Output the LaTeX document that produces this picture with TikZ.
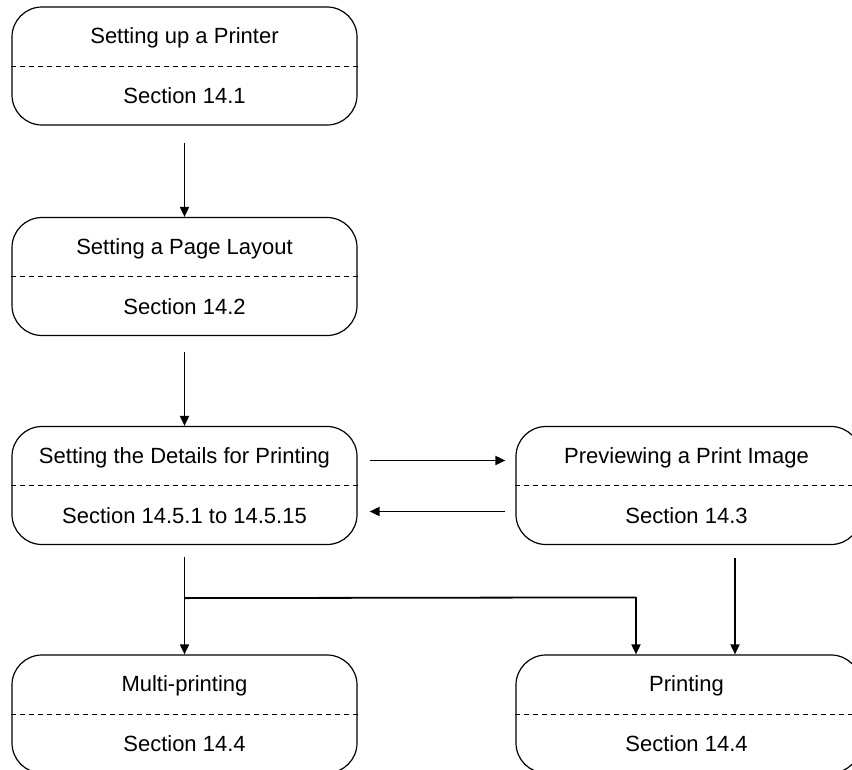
\documentclass[tikz,border=0pt]{standalone}
\usepackage{fontspec}
\setmainfont{Liberation Sans}
\usetikzlibrary{arrows.meta,calc}
\begin{document}
\begin{tikzpicture}[x=1pt,y=-1pt,
  box/.style={draw,line width=1.2pt,rounded corners=30pt,minimum width=345pt,minimum height=118pt,inner sep=0pt},
  sep/.style={dash pattern=on 5pt off 4pt,line width=0.9pt},
  lbl/.style={font=\fontsize{22}{26}\selectfont,inner sep=0pt,anchor=center},
  arr/.style={line width=1.8pt,-{Triangle[length=10pt,width=9pt]}},
  ln/.style={line width=1.8pt}]
\useasboundingbox (0,0) rectangle (852,769);
\clip (0,0) rectangle (852,769);
% boxes
\node[box] (b1) at (184.5,66) {};
\node[box] (b2) at (184.5,276.5) {};
\node[box] (b3) at (184.5,485.5) {};
\node[box] (b4) at (688.5,485.5) {};
\node[box] (b5) at (184.5,714) {};
\node[box] (b6) at (688.5,714) {};
% separators
\foreach \b in {b1,b2,b3,b4,b5,b6}{\draw[sep] (\b.west) -- (\b.east);}
% texts
\node[lbl] (b1t) at ($(b1.center)+(0,-28)$) {Setting up a Printer};
\node[lbl] (b1s) at ($(b1.center)+(0,30)$) {Section 14.1};
\node[lbl] (b2t) at ($(b2.center)+(0,-28)$) {Setting a Page Layout};
\node[lbl] (b2s) at ($(b2.center)+(0,30)$) {Section 14.2};
\node[lbl] (b3t) at ($(b3.center)+(0,-28)$) {Setting the Details for Printing};
\node[lbl] (b3s) at ($(b3.center)+(0,30)$) {Section 14.5.1 to 14.5.15};
\node[lbl] (b4t) at ($(b4.center)+(-2,-28)$) {Previewing a Print Image};
\node[lbl] (b4s) at ($(b4.center)+(-2,30)$) {Section 14.3};
\node[lbl] (b5t) at ($(b5.center)+(0,-28)$) {Multi-printing};
\node[lbl] (b5s) at ($(b5.center)+(0,30)$) {Section 14.4};
\node[lbl] (b6t) at ($(b6.center)+(-2,-28)$) {Printing};
\node[lbl] (b6s) at ($(b6.center)+(-2,30)$) {Section 14.4};
% connectors
\draw[arr] ($(b1.south)+(0,17)$) -- (b2.north);
\draw[arr] ($(b2.south)+(0,16)$) -- (b3.north);
\draw[arr] ($(b3.east)+(12,-25)$) -- ($(b4.west)+(-10,-25)$);
\draw[arr] ($(b4.west)+(-10,26)$) -- ($(b3.east)+(12,26)$);
\coordinate (j1) at ($(b3.south)+(0,53)$);
\coordinate (j2) at ($(b6.north)+(-52.5,-57)$);
\draw[arr] ($(b3.south)+(0,12)$) -- (b5.north);
\draw[ln] (j1) -- (j2);
\draw[arr] (j2) -- (j2 |- b6.north);
\draw[arr] ($(b4.south)+(46.5,13)$) -- ($(b6.north)+(46.5,0)$);
\end{tikzpicture}
\end{document}
